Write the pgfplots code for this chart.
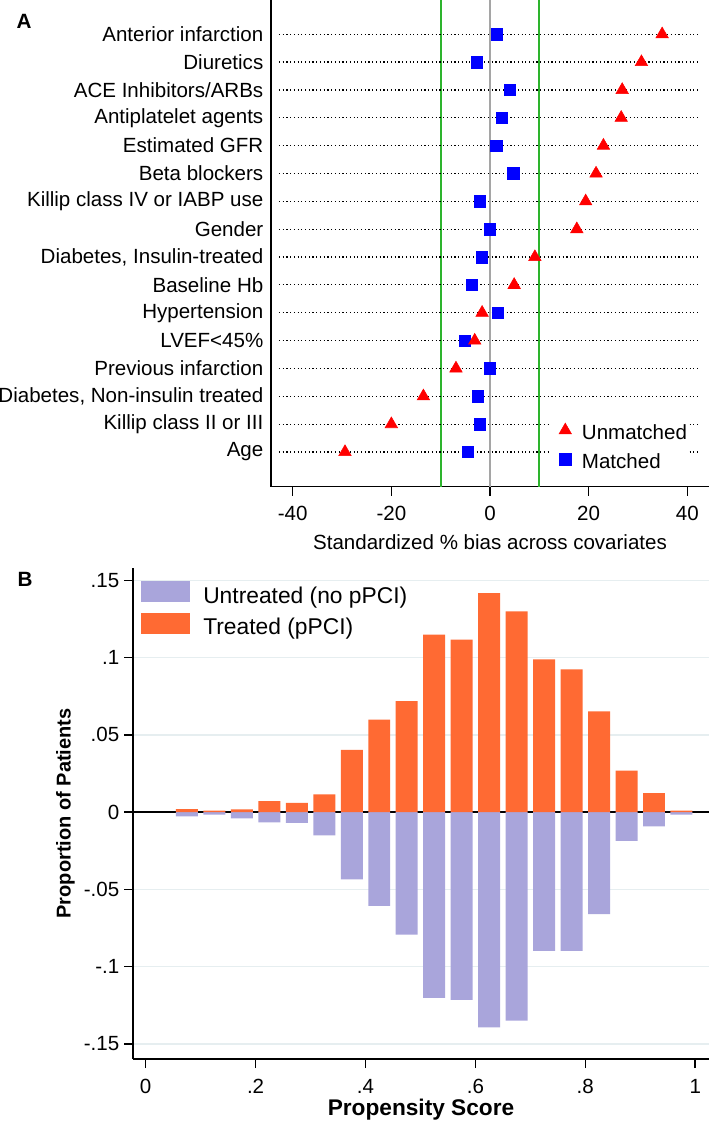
\documentclass[border=0pt]{standalone}
\usepackage{fontspec}
\setmainfont{Liberation Sans}
\usepackage{pgfplots}
\usepackage{pgfplotstable}
\pgfplotsset{compat=1.18}

\definecolor{mred}{RGB}{255,0,0}
\definecolor{mblue}{RGB}{0,0,255}
\definecolor{refgreen}{RGB}{45,180,45}
\definecolor{refgray}{RGB}{165,165,165}
\definecolor{treated}{RGB}{255,106,51}
\definecolor{untreated}{RGB}{169,165,219}
\definecolor{gridc}{RGB}{230,238,240}

\newcommand\ftop{\fontsize{15.4}{18}\selectfont}
\newcommand\fbot{\fontsize{15.4}{18}\selectfont}

\pgfplotsset{
  markleg/.style={legend image code/.code={%
    \path[draw=none, fill=none] (-12pt,-3pt) rectangle (6pt,3pt);
    \draw[##1] plot coordinates {(0pt,3.8pt)};}},
}

% covariate balance: row (16 = top), unmatched, matched
\pgfplotstableread{
y   un     ma
16  34.9   1.4
15  30.7  -2.7
14  26.8   4.0
13  26.6   2.4
12  23.0   1.3
11  21.5   4.7
10  19.4  -2.1
9   17.6   0.0
8    9.1  -1.7
7    4.9  -3.7
6   -1.6   1.6
5   -3.1  -5.1
4   -6.9   0.0
3  -13.5  -2.5
2  -20.0  -2.1
1  -29.4  -4.5
}\covars

% propensity score histogram (bin centres)
\pgfplotstableread{
ps     untr     tr
0.075 -0.0028  0.0020
0.125 -0.0017  0.0010
0.175 -0.0040  0.0018
0.225 -0.0067  0.0071
0.275 -0.0069  0.0060
0.325 -0.0151  0.0114
0.375 -0.0436  0.0403
0.425 -0.0607  0.0598
0.475 -0.0793  0.0719
0.525 -0.1203  0.1148
0.575 -0.1216  0.1116
0.625 -0.1393  0.1418
0.675 -0.1350  0.1299
0.725 -0.0898  0.0989
0.775 -0.0898  0.0924
0.825 -0.0661  0.0652
0.875 -0.0186  0.0268
0.925 -0.0093  0.0123
0.975 -0.0017  0.0010
}\hist

\begin{document}
\begin{tikzpicture}
\useasboundingbox (0,0) rectangle (531.75pt,840.75pt);

% ---- panel A
\begin{axis}[
  at={(203.25pt,475.725pt)}, anchor=south west,
  scale only axis, width=328.5pt, height=365.025pt,
  xmin=-44.4, xmax=44.4, ymin=-0.246, ymax=17.23,
  axis x line=bottom, axis y line=left,
  axis line style={-, line width=1.1pt, black},
  tick align=outside, major tick length=6.75pt,
  xtick={-40,-20,0,20,40}, xticklabels={-40,-20,0,20,40},
  xtick style={black, line width=1.1pt},
  xticklabel style={yshift=-4pt},
  ytick={1,...,16},
  yticklabels={Age, Killip class II or III, {Diabetes, Non-insulin treated},
    Previous infarction, LVEF<45\%, Hypertension, Baseline Hb,
    {Diabetes, Insulin-treated}, Gender, Killip class IV or IABP use,
    Beta blockers, Estimated GFR, Antiplatelet agents, ACE Inhibitors/ARBs,
    Diuretics, Anterior infarction},
  ytick style={draw=none},
  yticklabel style={xshift=4.5pt},
  tick label style={font=\ftop},
  xlabel={Standardized \% bias across covariates},
  xlabel style={font=\ftop, at={(axis description cs:0.5,0)}, anchor=center, yshift=-41.5pt},
  reverse legend,
  legend style={at={(0.6347,0.1412)}, anchor=north west, draw=none, fill=white,
    inner xsep=0pt, inner ysep=2pt, font=\ftop, row sep=0pt, column sep=6.5pt,
    nodes={inner sep=0pt, text height=14pt, text depth=7.75pt}},
  legend cell align=left,
]
\addplot[refgreen, line width=1.35pt, forget plot] coordinates {(-10,-0.246) (-10,17.23)};
\addplot[refgreen, line width=1.35pt, forget plot] coordinates {(10,-0.246) (10,17.23)};
\addplot[refgray, line width=1.35pt, forget plot] coordinates {(0,-0.246) (0,17.23)};
\addplot[black, line width=0.9pt, dash pattern=on 0.9pt off 1.9pt, unbounded coords=jump, forget plot]
  coordinates {
  (-42.8,16) (42.2,16) (nan,nan) (-42.8,15) (42.2,15) (nan,nan)
  (-42.8,14) (42.2,14) (nan,nan) (-42.8,13) (42.2,13) (nan,nan)
  (-42.8,12) (42.2,12) (nan,nan) (-42.8,11) (42.2,11) (nan,nan)
  (-42.8,10) (42.2,10) (nan,nan) (-42.8,9) (42.2,9) (nan,nan)
  (-42.8,8) (42.2,8) (nan,nan) (-42.8,7) (42.2,7) (nan,nan)
  (-42.8,6) (42.2,6) (nan,nan) (-42.8,5) (42.2,5) (nan,nan)
  (-42.8,4) (42.2,4) (nan,nan) (-42.8,3) (42.2,3) (nan,nan)
  (-42.8,2) (42.2,2) (nan,nan) (-42.8,1) (42.2,1)
  };
\addplot[only marks, mark=square*, mark size=4.3pt, mblue,
  mark options={fill=mblue, draw=none}, markleg]
  table[x=ma, y=y] {\covars};
\addlegendentry{Matched}
\addplot[only marks, mark=triangle*, mark size=5.4pt, mred,
  mark options={fill=mred, draw=none}, markleg]
  table[x=un, y=y] {\covars};
\addlegendentry{Unmatched}
\end{axis}

% ---- panel B
\begin{axis}[
  at={(99.75pt,46.5pt)}, anchor=south west,
  scale only axis, width=432pt, height=368.25pt,
  xmin=-0.0231, xmax=1.0251, ymin=-0.1598, ymax=0.158,
  ybar, bar width=0.04, bar shift=0pt,
  axis x line=bottom, axis y line=left,
  axis line style={-, line width=1.1pt, black},
  tick align=outside, major tick length=6.75pt,
  tick style={black, line width=1.1pt},
  ymajorgrids, grid style={gridc, line width=1pt},
  ytick={-0.15,-0.1,-0.05,0,0.05,0.1,0.15},
  yticklabels={-.15,-.1,-.05,0,.05,.1,.15},
  xtick={0,0.2,0.4,0.6,0.8,1}, xticklabels={0,.2,.4,.6,.8,1},
  xticklabel style={yshift=-5pt},
  tick label style={font=\fbot},
  xlabel={Propensity Score}, ylabel={Proportion of Patients},
  xlabel style={font=\fontsize{17}{20}\selectfont\bfseries,
    at={(axis description cs:0.5,0)}, anchor=center, yshift=-38.25pt},
  ylabel style={font=\fontsize{15}{18}\selectfont\bfseries},
  legend style={at={(0.0139,0.9731)}, anchor=north west, draw=none, fill=none,
    inner sep=0pt, font=\fontsize{17.1}{20}\selectfont, row sep=0pt, column sep=9.75pt,
    nodes={inner sep=0pt, text height=12.5pt, text depth=7pt}},
  legend cell align=left,
]
\addplot[sharp plot, black, line width=1.3pt, forget plot] coordinates {(-0.0231,0) (1.0251,0)};
\addplot[fill=untreated, draw=none,
  legend image code/.code={\fill[untreated] (0pt,-2.1pt) rectangle (36.75pt,13.65pt);}]
  table[x=ps, y=untr] {\hist};
\addlegendentry{Untreated (no pPCI)}
\addplot[fill=treated, draw=none,
  legend image code/.code={\fill[treated] (0pt,-2.1pt) rectangle (36.75pt,13.65pt);}]
  table[x=ps, y=tr] {\hist};
\addlegendentry{Treated (pPCI)}
\end{axis}

\node[font=\fontsize{15.5}{18}\selectfont\bfseries] at (18pt,825pt) {A};
\node[font=\fontsize{15.5}{18}\selectfont\bfseries] at (18.75pt,406.1pt) {B};
\end{tikzpicture}
\end{document}
